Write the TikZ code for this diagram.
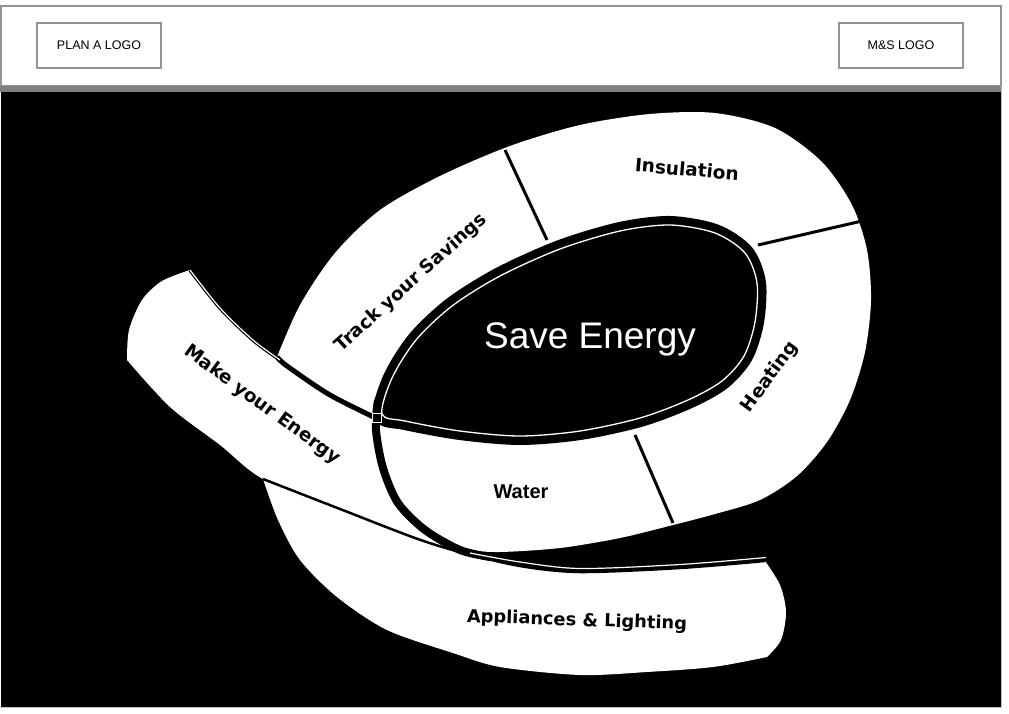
\documentclass[tikz,border=0pt]{standalone}
\usepackage{fontspec}
\setmainfont{Liberation Sans}
\newfontfamily\bandfont{DejaVu Sans}

\begin{document}
\begin{tikzpicture}[x=1pt,y=-1pt,
	logobox/.style={draw=gray!85,line width=1.6pt,minimum width=124pt,minimum height=45pt,
	  font=\fontsize{12.5}{14}\selectfont},
	divider/.style={line width=3pt},
	bandlabel/.style={font=\bandfont\bfseries\fontsize{18.5}{20}\selectfont}]
	  \useasboundingbox (0,0) rectangle (1009,714);

	  % header with the two logo boxes
	  \draw[gray!85,line width=1.6pt] (1,6) rectangle (1001,86);
	  \node[logobox] (planA) at (99,45.5) {PLAN A LOGO};
	  \node[logobox] (mands) at (901,45.5) {M\&S LOGO};
	  \fill[gray] (0,86) rectangle (1002,92);
	  \fill[black] (1,92) rectangle (1001,707);
	  \draw[gray!50,line width=1pt] (1001.5,86) -- (1001.5,707.5) -- (0,707.5);

	  % appliances band
	  \fill[white] plot[smooth] coordinates {(263,479) (340,509) (415,538) (460,552) (520,566) (580,572) (680,568) (765,561)}
	    -- plot[smooth] coordinates {(765,561) (780,585) (786,612) (781,640) (767,657)}
	    -- plot[smooth] coordinates {(767,657) (713,667) (647,672) (580,675) (500,667) (453,653) (387,630) (337,597) (300,560) (278,520) (263,479)} -- cycle;
	  % outer ring
	  \fill[white] plot[smooth] coordinates {(277,357) (300,305) (335,253) (380,210) (440,176) (510,146) (580,125) (650,114) (715,113) (775,128) (822,162) (852,205) (867,250) (871,300) (865,352) (850,400) (827,442) (797,476) (760,500) (715,514) (673,525) (620,538) (560,548) (500,552) (460,550)}
	    -- plot[smooth] coordinates {(460,550) (425,530) (398,503) (383,468) (376,430) (376,418)}
	    -- plot[smooth] coordinates {(376,418) (330,395) (300,377) (277,357)} -- cycle;
	  % make your energy band
	  \fill[white] plot[smooth] coordinates {(190,270) (220,308) (253,340) (287,366) (330,395) (376,418)}
	    -- plot[smooth] coordinates {(376,418) (376,430) (383,468) (398,503) (425,530) (460,552)}
	    -- plot[smooth] coordinates {(460,552) (415,538) (340,509) (263,479) (220,445) (170,407) (127,360)}
	    -- plot[smooth] coordinates {(127,360) (129,330) (142,300) (162,281) (190,270)} -- cycle;

	  \foreach \xa/\ya/\xb/\yb in {505/150/547/240, 758/245/862/221, 635/435/673/523}
	    \draw[divider] (\xa,\ya) -- (\xb,\yb);

	  % save energy loop
	  \fill[black,preaction={draw,line width=18pt},postaction={draw=white,line width=1.3pt}]
	    plot[smooth cycle] coordinates {(382,414) (392,378) (416,340) (452,306) (500,276) (560,249) (620,231) (670,225) (715,233) (745,253) (757,283) (755,322) (744,356) (722,381) (688,400) (640,418) (580,431) (520,436) (460,431) (405,421)};

	  % spiral edges
	  \draw[line width=8pt] plot[smooth] coordinates {(378,400) (376,430) (383,468) (398,503) (425,530) (460,550) (490,557)};
	  \draw[line width=5pt] plot[smooth] coordinates {(277,357) (287,366) (330,395) (382,421)};
	  \draw[line width=1.2pt,double=white,double distance=1.2pt] plot[smooth] coordinates {(190,270) (220,308) (253,340) (280,360)};
	  \draw[line width=2.5pt] plot[smooth] coordinates {(263,479) (340,509) (415,538) (460,552) (520,566) (580,572) (680,568) (765,561)};
	  \draw[white,line width=1.2pt] plot[smooth] coordinates {(470,553) (520,562) (580,568.5) (680,564.5) (766,557.5)};
	  \draw[white,fill=black,line width=0.8pt] (372,413) rectangle (381,422);

	  % labels
	  \node[text=white,font=\fontsize{37}{40}\selectfont,anchor=base] (save) at (590,348) {Save Energy};
	  \node[bandlabel,rotate=-5] (insulation) at (687,169) {Insulation};
	  \node[bandlabel,rotate=42] (savings) at (411,283) {Track your Savings};
	  \node[bandlabel,rotate=-36] (make) at (262,405) {Make your Energy};
	  \node[bandlabel,rotate=54] (heating) at (770,377) {Heating};
	  \node[font=\bfseries\fontsize{20}{22}\selectfont] (water) at (521,492) {Water};
	  \node[bandlabel,font=\bandfont\bfseries\fontsize{17.8}{19}\selectfont,rotate=-2] (appliances) at (577,621) {Appliances \& Lighting};

	\end{tikzpicture}
\end{document}
